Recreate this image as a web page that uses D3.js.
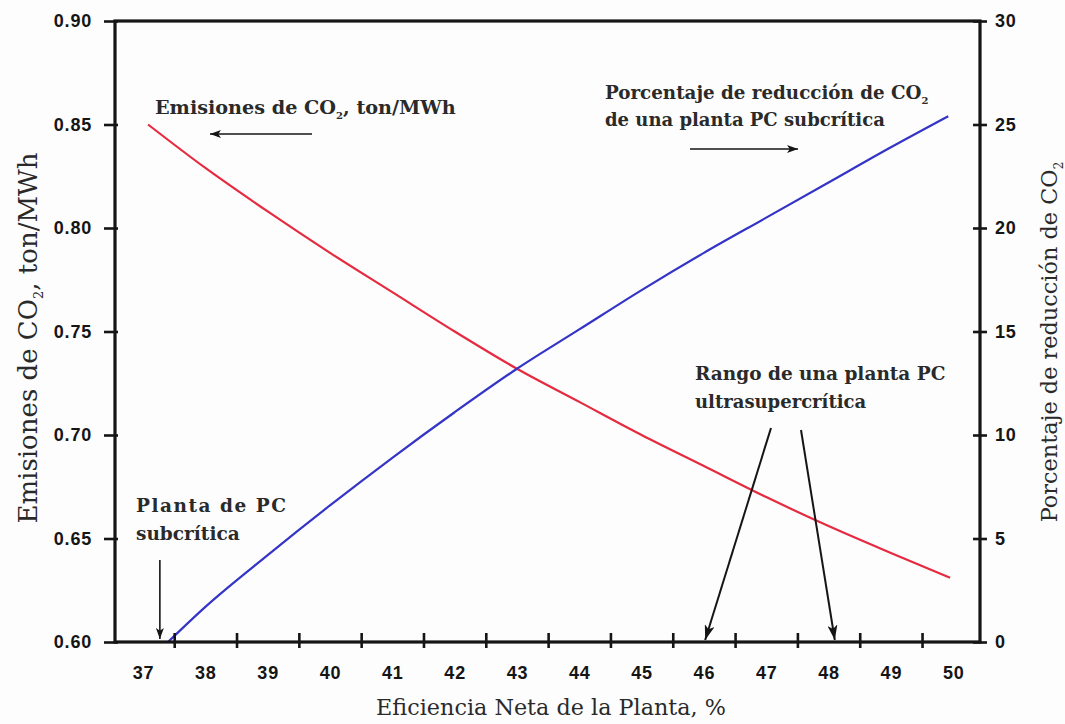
<!DOCTYPE html>
<html>
<head>
<meta charset="utf-8">
<script src="https://cdn.jsdelivr.net/npm/d3@7"></script>
<style>
  html, body { margin: 0; padding: 0; background: #fdfdfd; }
  svg { display: block; }
</style>
</head>
<body>
<svg id="chart" width="1065" height="724"></svg>
<script>
// ---- Data ----
const xTickLabels = [37, 38, 39, 40, 41, 42, 43, 44, 45, 46, 47, 48, 49, 50];
const xTickMarks = [37.5, 38.5, 39.5, 40.5, 41.5, 42.5, 43.5, 44.5, 45.5, 46.5, 47.5, 48.5, 49.5];
const leftTicks = [0.60, 0.65, 0.70, 0.75, 0.80, 0.85, 0.90];
const rightTicks = [0, 5, 10, 15, 20, 25, 30];

const emisEfficiency = [37.08, 38, 39, 40, 41, 42, 43, 44, 45, 46, 47, 48, 49, 49.95];
const emisValues = [0.850, 0.829, 0.808, 0.788, 0.769, 0.750, 0.732, 0.716, 0.700, 0.685, 0.670, 0.656, 0.643, 0.631];

const redEfficiency = [37.40, 38, 39, 40, 41, 42, 43, 44, 45, 46, 47, 48, 49, 49.92];
const redValues = [0, 1.7, 4.2, 6.6, 8.9, 11.1, 13.2, 15.1, 17.0, 18.8, 20.5, 22.2, 23.9, 25.4];

const subcriticalEff = 37.27;
const ultraRange = [46.02, 48.1];

// ---- Layout ----
const svg = d3.select("#chart");
const L = 115, R = 980, T = 21, B = 642;

const x = d3.scaleLinear().domain([36.55, 50.43]).range([L, R]);
const yL = d3.scaleLinear().domain([0.60, 0.90]).range([B, T]);
const yR = d3.scaleLinear().domain([0, 30]).range([B, T]);

const serif = "'DejaVu Serif', serif";
const sans = "'Liberation Sans', Arial, sans-serif";
const ink = "#151515";

svg.append("rect").attr("width", 1065).attr("height", 724).attr("fill", "#fdfdfd");

// markers
const defs = svg.append("defs");
function marker(id, w, h) {
  defs.append("marker").attr("id", id)
    .attr("viewBox", `0 0 ${w} ${h}`).attr("refX", w).attr("refY", h / 2)
    .attr("markerWidth", w).attr("markerHeight", h).attr("markerUnits", "userSpaceOnUse")
    .attr("orient", "auto")
    .append("path").attr("d", `M0,0 L${w},${h/2} L0,${h} L${w*0.25},${h/2} Z`).attr("fill", ink);
}
marker("ahS", 11, 8);
marker("ahL", 15, 10);

// ---- Lines ----
const lineL = d3.line().x(d => x(d[0])).y(d => yL(d[1])).curve(d3.curveMonotoneX);
const lineR = d3.line().x(d => x(d[0])).y(d => yR(d[1])).curve(d3.curveMonotoneX);

svg.append("path").datum(d3.zip(emisEfficiency, emisValues))
  .attr("d", lineL).attr("fill", "none").attr("stroke", "#e62a40").attr("stroke-width", 2.2);
svg.append("path").datum(d3.zip(redEfficiency, redValues))
  .attr("d", lineR).attr("fill", "none").attr("stroke", "#3434c6").attr("stroke-width", 2.2);

// ---- Axes ----
const axL = svg.append("g").attr("transform", `translate(${L},0)`)
  .call(d3.axisLeft(yL).tickValues(leftTicks).tickFormat(d3.format(".2f")).tickSize(11).tickPadding(12));
axL.selectAll("line").attr("x1", 3);
const axR = svg.append("g").attr("transform", `translate(${R},0)`)
  .call(d3.axisRight(yR).tickValues(rightTicks).tickFormat(d3.format("d")).tickSize(7).tickPadding(8));
axR.selectAll("line").attr("x1", -7);
const axB = svg.append("g").attr("transform", `translate(0,${B})`)
  .call(d3.axisBottom(x).tickValues(xTickMarks).tickFormat("").tickSize(6));
axB.selectAll("line").attr("y1", -9);
const axBL = svg.append("g").attr("transform", `translate(0,${B})`)
  .call(d3.axisBottom(x).tickValues(xTickLabels).tickFormat(d3.format("d")).tickSize(0).tickPadding(24));

[axL, axR, axB, axBL].forEach(g => {
  g.select(".domain").remove();
  g.selectAll("line").attr("stroke", ink).attr("stroke-width", 2.6);
  g.selectAll("text").attr("font-family", sans).attr("font-weight", "bold")
    .attr("font-size", 18).attr("fill", ink).attr("letter-spacing", 0.8);
});

// frame
svg.append("rect").attr("x", L).attr("y", T).attr("width", R - L).attr("height", B - T)
  .attr("fill", "none").attr("stroke", ink).attr("stroke-width", 3.2);

// ---- Titles ----
const txt = "#2a2a2a";
function co2(sel, pre, post, sub, dy) {
  dy = dy || 5;
  sel.append("tspan").text(pre);
  sel.append("tspan").text("2").attr("font-size", sub).attr("dy", dy);
  sel.append("tspan").text(post).attr("dy", -dy);
}

svg.append("text").attr("x", 551).attr("y", 715).attr("text-anchor", "middle")
  .attr("font-family", serif).attr("font-size", 22.3).attr("fill", txt)
  .text("Eficiencia Neta de la Planta, %");

const tl = svg.append("text").attr("transform", "translate(37,338) rotate(-90)").attr("text-anchor", "middle")
  .attr("font-family", serif).attr("font-size", 26).attr("fill", txt);
co2(tl, "Emisiones de CO", ", ton/MWh", 13, 6);

const tr = svg.append("text").attr("transform", "translate(1057,342) rotate(-90)").attr("text-anchor", "middle")
  .attr("font-family", serif).attr("font-size", 22.4).attr("fill", txt);
co2(tr, "Porcentaje de reducción de CO", "", 12, 6);

// ---- Annotations ----
function ann(xp, yp, s, size, tlen) {
  const t = svg.append("text").attr("x", xp).attr("y", yp).attr("font-family", serif)
    .attr("font-size", size || 18).attr("font-weight", "bold").attr("fill", txt).text(s);
  if (tlen) t.attr("textLength", tlen).attr("lengthAdjust", "spacing");
  return t;
}
const a1 = svg.append("text").attr("x", 155).attr("y", 114).attr("font-family", serif)
  .attr("font-size", 19.2).attr("font-weight", "bold").attr("fill", txt);
co2(a1, "Emisiones de CO", ", ton/MWh", 10, 5);

const a2 = svg.append("text").attr("x", 605).attr("y", 99).attr("font-family", serif)
  .attr("font-size", 18.3).attr("font-weight", "bold").attr("fill", txt);
co2(a2, "Porcentaje de reducción de CO", "", 10, 5);
ann(605, 126, "de una planta PC subcrítica", 18);
ann(695, 380, "Rango de una planta PC", 18.5);
ann(695, 408, "ultrasupercrítica", 18);
ann(136, 512, "Planta de PC", 18.5, 150);
ann(136, 540, "subcrítica", 18.5);

function arrow(x1, y1, x2, y2, m, w) {
  svg.append("line").attr("x1", x1).attr("y1", y1).attr("x2", x2).attr("y2", y2)
    .attr("stroke", ink).attr("stroke-width", w || 1.6).attr("marker-end", `url(#${m})`);
}
arrow(312, 134, 210, 134, "ahS", 1.4);
arrow(690, 149, 798, 149, "ahS", 1.4);
arrow(x(subcriticalEff), 560, x(subcriticalEff), B - 3, "ahS", 1.6);
arrow(771, 428, x(ultraRange[0]), B - 2, "ahL", 2);
arrow(801, 430, x(ultraRange[1]), B - 2, "ahL", 2);
</script>
</body>
</html>
